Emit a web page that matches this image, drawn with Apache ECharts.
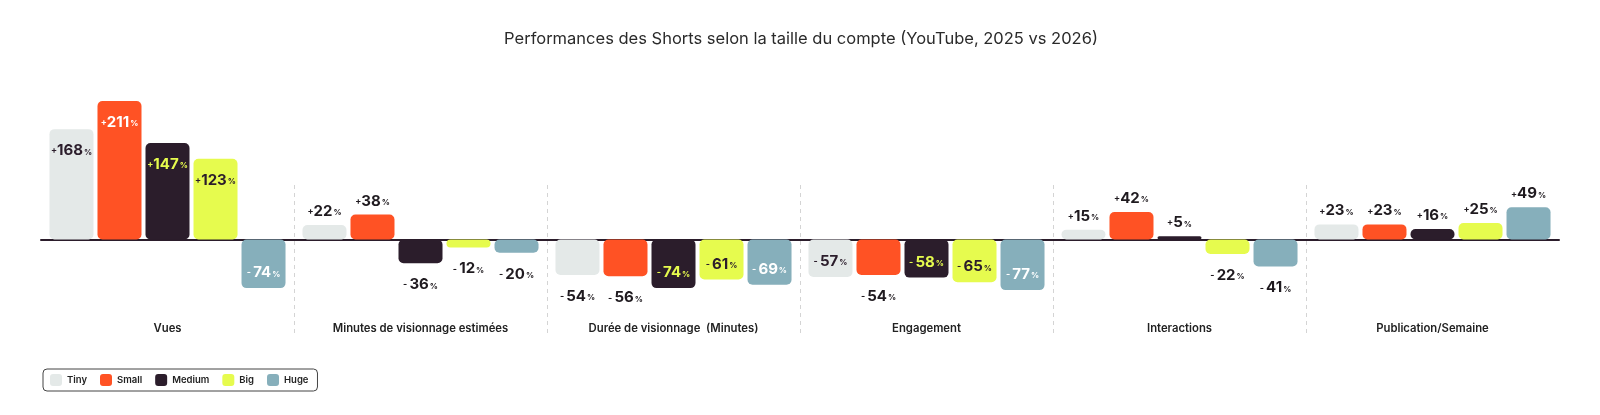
<!DOCTYPE html>
<html>
<head>
<meta charset="utf-8">
<script src="https://cdn.jsdelivr.net/npm/echarts@6/dist/echarts.min.js"></script>
<style>
  html, body { margin: 0; padding: 0; background: #fff; }
  #chart { width: 1600px; height: 415px; }
</style>
</head>
<body>
<div id="chart"></div>
<script>
const categories = ['Vues', 'Minutes de visionnage estimées', 'Durée de visionnage  (Minutes)', 'Engagement', 'Interactions', 'Publication/Semaine'];
const seriesNames = ['Tiny', 'Small', 'Medium', 'Big', 'Huge'];
const tiny = [168, 22, -54, -57, 15, 23];
const small = [211, 38, -56, -54, 42, 23];
const medium = [147, -36, -74, -58, 5, 16];
const big = [123, -12, -61, -65, -22, 25];
const huge = [-74, -20, -69, -77, -41, 49];

const barColors = ['#e4e9e8', '#ff5224', '#2b1d2b', '#e6fb4e', '#86afbb'];
const insideText = ['#2b1d2b', '#ffffff', '#e6fb4e', '#2b1d2b', '#ffffff'];
const FONT = 'Inter';

// labels sit inside tall bars, outside short ones
function labelFor(v, i) {
  const inside = Math.abs(v) >= 57;
  let position, distance;
  if (inside) {
    position = v >= 0 ? 'insideTop' : 'insideBottom';
    distance = v >= 0 ? 14 : 8;
  } else {
    position = v >= 0 ? 'top' : 'bottom';
    distance = v >= 0 ? 6 : 14;
  }
  return {
    show: true,
    position: position,
    distance: distance,
    color: inside ? insideText[i] : '#1f1a1f',
    formatter: '{s|' + (v >= 0 ? '+' : '- ') + '}{n|' + Math.abs(v) + '}{p|%}',
    rich: {
      s: { fontSize: 9, fontWeight: 700, fontFamily: FONT },
      n: { fontSize: 15, fontWeight: 700, fontFamily: FONT },
      p: { fontSize: 8, fontWeight: 700, fontFamily: FONT, padding: [3, 0, 0, 1] }
    }
  };
}

const allData = [tiny, small, medium, big, huge];
const series = seriesNames.map((name, i) => ({
  name: name,
  type: 'bar',
  xAxisIndex: 0,
  yAxisIndex: 0,
  barGap: '9.1%',
  barCategoryGap: '6.7%',
  itemStyle: { color: barColors[i], borderRadius: 5 },
  data: allData[i].map(v => ({ value: v, label: labelFor(v, i) }))
}));

const chart = echarts.init(document.getElementById('chart'));
chart.setOption({
  animation: false,
  title: {
    text: 'Performances des Shorts selon la taille du compte (YouTube, 2025 vs 2026)',
    left: 796,
    textAlign: 'center',
    top: 26,
    textStyle: { fontFamily: FONT, fontSize: 16.5, fontWeight: 400, color: '#2a2a2a' }
  },
  legend: {
    data: seriesNames,
    left: 43,
    top: 369,
    padding: [5, 9, 5, 7],
    itemGap: 13,
    itemWidth: 12,
    itemHeight: 12,
    icon: 'roundRect',
    borderColor: '#444',
    borderWidth: 1,
    borderRadius: 4,
    textStyle: { fontFamily: FONT, fontSize: 9.5, fontWeight: 600, color: '#222' }
  },
  grid: [
    { left: 41, right: 41, top: 95, bottom: 109.8 },
    { left: 41, right: 41, top: 185, height: 149 }
  ],
  xAxis: [
    {
      type: 'category', gridIndex: 0, data: categories,
      axisLine: { onZero: true, lineStyle: { color: '#2b1d2b', width: 2 } },
      axisTick: { show: false },
      axisLabel: { show: false }
    },
    {
      type: 'category', gridIndex: 0, data: categories, position: 'bottom',
      axisLine: { show: false, onZero: false },
      axisTick: { show: false },
      axisLabel: { margin: 18, fontFamily: FONT, fontSize: 11.3, fontWeight: 600, color: '#222' }
    },
    {
      type: 'value', gridIndex: 1, min: 0, max: 6, interval: 1,
      axisLine: { show: false },
      axisTick: { show: false },
      axisLabel: { show: false },
      splitLine: {
        show: true, showMinLine: false, showMaxLine: false,
        lineStyle: { color: '#d4d4d4', type: [4, 4], width: 1 }
      }
    }
  ],
  yAxis: [
    { type: 'value', gridIndex: 0, min: -100, max: 220, show: false, splitLine: { show: false } },
    { type: 'value', gridIndex: 1, show: false, splitLine: { show: false } }
  ],
  series: series
});
</script>
</body>
</html>
